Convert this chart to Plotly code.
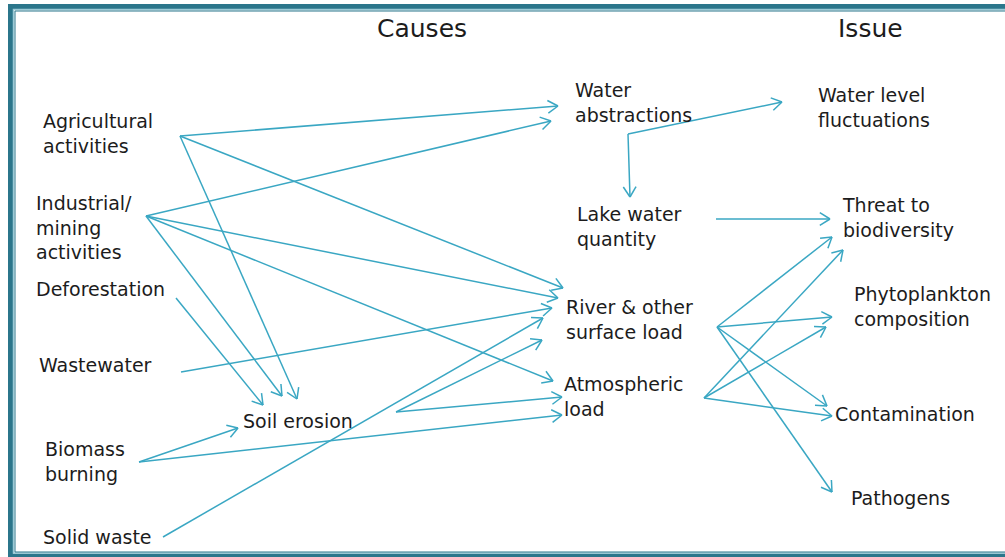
import plotly.graph_objects as go
import math

W, H = 1005, 557
ARROW = '#3aa7c3'
INK = '#1c1c1c'
FRAME_DARK = '#2b768b'
FRAME_LIGHT = '#9ccbd7'
FONT = 'DejaVu Sans'

# column headers
headers = ['Causes', 'Issue']
header_x = [422, 870]
header_y = [28, 28]

# node labels (text blocks, left aligned, y = middle of block)
labels = [
    'Agricultural<br>activities',
    'Industrial/<br>mining<br>activities',
    'Deforestation',
    'Wastewater',
    'Soil erosion',
    'Biomass<br>burning',
    'Solid waste',
    'Water<br>abstractions',
    'Lake water<br>quantity',
    'River &amp; other<br>surface load',
    'Atmospheric<br>load',
    'Water level<br>fluctuations',
    'Threat to<br>biodiversity',
    'Phytoplankton<br>composition',
    'Contamination',
    'Pathogens',
]
label_x = [41, 34, 34, 37, 241, 43, 41, 573, 575, 564, 562, 816, 840, 852, 833, 849]
label_y = [133, 227, 289, 365, 421, 461, 537, 102, 226, 319, 396, 107, 217, 306, 414, 498]

# arrows: start point -> arrow tip
arrow_from = [
    (180, 136), (180, 136), (180, 136),                 # agricultural
    (146, 216), (146, 216), (146, 216), (146, 216),     # industrial/mining
    (176, 298),                                         # deforestation
    (181, 372),                                         # wastewater
    (139, 462), (139, 462),                             # biomass burning
    (163, 537),                                         # solid waste
    (396, 412), (396, 412),                             # soil erosion
    (628, 134), (628, 134),                             # water abstractions
    (716, 219),                                         # lake water quantity
    (717, 327), (717, 327), (717, 327), (717, 327),     # river & surface load
    (704, 398), (704, 398), (704, 398),                 # atmospheric load
]
arrow_to = [
    (558, 106), (563, 288), (297, 399),
    (551, 121), (558, 298), (553, 381), (282, 396),
    (263, 405),
    (552, 308),
    (238, 428), (562, 415),
    (543, 318),
    (542, 340), (562, 397),
    (782, 102), (630, 197),
    (830, 219),
    (832, 237), (832, 317), (827, 406), (832, 492),
    (843, 250), (826, 327), (832, 416),
]


def arrow_path(p0, p1, size=12, spread=32):
    x0, y0 = p0
    x1, y1 = p1
    a = math.atan2(y1 - y0, x1 - x0)
    xs = [x0, x1, None]
    ys = [y0, y1, None]
    for s in (1, -1):
        b = a + math.pi + s * math.radians(spread)
        xs += [x1 + size * math.cos(b), x1, None]
        ys += [y1 + size * math.sin(b), y1, None]
    return xs, ys


ax, ay = [], []
for p0, p1 in zip(arrow_from, arrow_to):
    xs, ys = arrow_path(p0, p1)
    ax += xs
    ay += ys

fig = go.Figure()
fig.add_trace(go.Scatter(x=ax, y=ay, mode='lines',
                         line=dict(color=ARROW, width=1.5),
                         hoverinfo='skip', showlegend=False))

for t, x, y in zip(headers, header_x, header_y):
    fig.add_annotation(x=x, y=y, text=t, showarrow=False,
                       xanchor='center', yanchor='middle',
                       font=dict(family=FONT, size=25, color=INK))

for t, x, y in zip(labels, label_x, label_y):
    fig.add_annotation(x=x, y=y, text=t, showarrow=False,
                       xanchor='left', yanchor='middle', align='left',
                       font=dict(family=FONT, size=19, color=INK))

# slide frame (double teal border)
fig.add_shape(type='rect', x0=10.5, y0=6.5, x1=1012, y1=556,
              line=dict(color=FRAME_DARK, width=5), layer='below')
fig.add_shape(type='rect', x0=13.5, y0=9.5, x1=1012, y1=553,
              line=dict(color=FRAME_LIGHT, width=1.5), layer='below')
fig.add_shape(type='rect', x0=15, y0=11, x1=1012, y1=552,
              line=dict(color=FRAME_DARK, width=1), layer='below')

fig.update_layout(
    width=W, height=H,
    margin=dict(l=0, r=0, t=0, b=0),
    paper_bgcolor='white', plot_bgcolor='white',
    xaxis=dict(range=[0, W], visible=False, fixedrange=True),
    yaxis=dict(range=[H, 0], visible=False, fixedrange=True),
    showlegend=False,
)

fig.write_html("out.html", config={'displayModeBar': False},
               post_script="document.body.style.margin='0';document.body.style.overflow='hidden';")
